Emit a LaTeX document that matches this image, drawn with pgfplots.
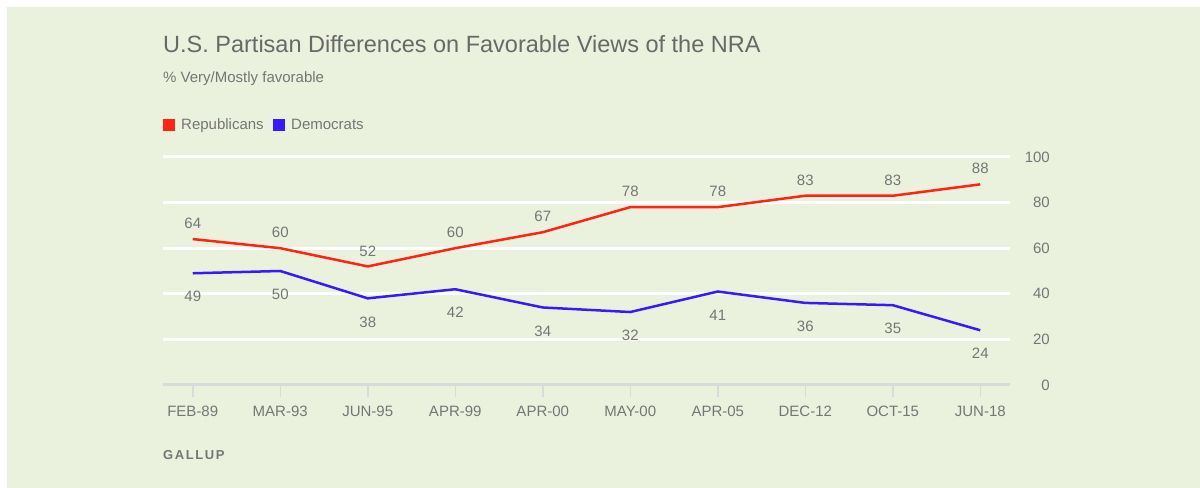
\documentclass[border=0pt]{standalone}
\usepackage{pgfplots}
\pgfplotsset{compat=1.18}
\usepackage{fontspec}
\setmainfont{Liberation Sans}
\newfontfamily\gallupfont[LetterSpace=12]{Liberation Sans}
\definecolor{bggreen}{RGB}{234,242,221}
\definecolor{titlegray}{RGB}{105,105,105}
\definecolor{txtgray}{RGB}{118,118,118}
\definecolor{axgray}{RGB}{218,218,218}
\definecolor{repred}{RGB}{255,36,18}
\definecolor{demblue}{RGB}{58,24,255}
\begin{document}
\begin{tikzpicture}[x=1bp,y=1bp]
\fill[white] (0,0) rectangle (1200,488);
\fill[bggreen] (7,0) rectangle (1200,481);
\node[anchor=base west, inner sep=0, text=titlegray, font=\fontsize{23.5bp}{28bp}\selectfont] at (163,435) {U.S. Partisan Differences on Favorable Views of the NRA};
\node[anchor=base west, inner sep=0, text=txtgray, font=\fontsize{15bp}{18bp}\selectfont] at (163,405) {\% Very/Mostly favorable};
\fill[repred] (163,357) rectangle (175,369);
\node[anchor=base west, inner sep=0, text=txtgray, font=\fontsize{15bp}{18bp}\selectfont] at (181,358) {Republicans};
\fill[demblue] (273,357) rectangle (285,369);
\node[anchor=base west, inner sep=0, text=txtgray, font=\fontsize{15bp}{18bp}\selectfont] at (291,358) {Democrats};
\node[anchor=base west, inner sep=0, text=txtgray, font=\gallupfont\bfseries\fontsize{13bp}{16bp}\selectfont] at (163,28) {GALLUP};
\begin{axis}[
  at={(163bp,103bp)}, anchor=south west,
  scale only axis, width=847bp, height=228bp,
  xmin=-0.34, xmax=9.34, ymin=0, ymax=100,
  clip=false,
  axis line style={draw=none},
  /pgf/number format/assume math mode=true,
  xtick={0,...,9},
  xticklabels={FEB-89,MAR-93,JUN-95,APR-99,APR-00,MAY-00,APR-05,DEC-12,OCT-15,JUN-18},
  xtick pos=left,
  xtick align=outside,
  major tick length=12bp,
  xtick style={axgray, line width=1.5bp},
  xticklabel style={anchor=north, inner sep=0pt, yshift=-9bp, text=txtgray, font=\fontsize{15bp}{18bp}\selectfont},
  ytick={20,40,60,80,100},
  extra y ticks={0},
  extra y tick style={grid style={axgray, line width=3bp}},
  ytick style={draw=none},
  yticklabel pos=right,
  yticklabel style={anchor=east, inner sep=0pt, xshift=40bp, text=txtgray, font=\fontsize{15bp}{18bp}\selectfont},
  ymajorgrids,
  grid style={white, line width=3bp},
  every node near coord/.append style={inner sep=0pt, text=txtgray, font=\fontsize{15bp}{18bp}\selectfont},
]
\addplot[repred, line width=2.5bp, mark=none, nodes near coords,
  every node near coord/.append style={anchor=south, yshift=9bp}]
  coordinates {(0,64) (1,60) (2,52) (3,60) (4,67) (5,78) (6,78) (7,83) (8,83) (9,88)};
\addplot[demblue, line width=2.5bp, mark=none, nodes near coords,
  every node near coord/.append style={anchor=north, yshift=-17bp}]
  coordinates {(0,49) (1,50) (2,38) (3,42) (4,34) (5,32) (6,41) (7,36) (8,35) (9,24)};
\end{axis}
\end{tikzpicture}
\end{document}
